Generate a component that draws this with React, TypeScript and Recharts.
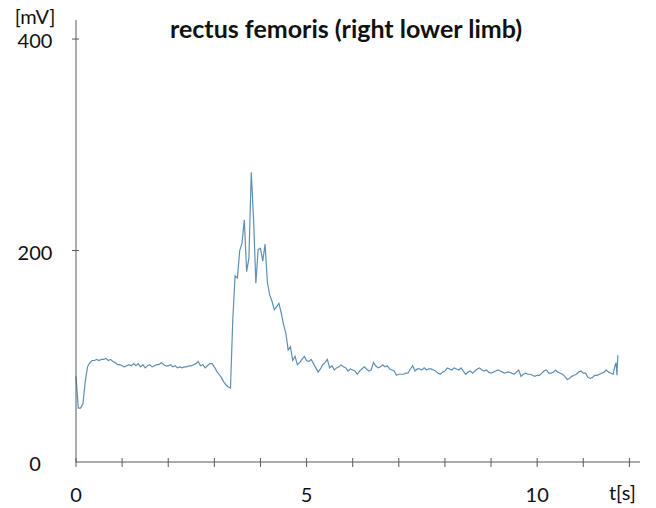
import React from 'react'
import { LineChart, Line, XAxis, YAxis } from 'recharts'

// sample times in seconds
const time = [
  0, 0.05, 0.1, 0.15, 0.2, 0.25, 0.3, 0.35, 0.4, 0.45,
  0.5, 0.55, 0.6, 0.65, 0.7, 0.75, 0.8, 0.85, 0.9, 0.95,
  1, 1.05, 1.1, 1.15, 1.2, 1.25, 1.3, 1.35, 1.4, 1.45,
  1.5, 1.55, 1.6, 1.65, 1.7, 1.75, 1.8, 1.85, 1.9, 1.95,
  2, 2.05, 2.1, 2.15, 2.2, 2.25, 2.3, 2.35, 2.4, 2.45,
  2.5, 2.55, 2.6, 2.65, 2.7, 2.75, 2.8, 2.85, 2.9, 2.95,
  3, 3.05, 3.1, 3.15, 3.2, 3.25, 3.3, 3.35, 3.4, 3.45,
  3.5, 3.55, 3.6, 3.65, 3.7, 3.75, 3.8, 3.85, 3.9, 3.95,
  4, 4.05, 4.1, 4.15, 4.2, 4.25, 4.3, 4.35, 4.4, 4.45,
  4.5, 4.55, 4.6, 4.65, 4.7, 4.75, 4.8, 4.85, 4.9, 4.95,
  5, 5.05, 5.1, 5.15, 5.2, 5.25, 5.3, 5.35, 5.4, 5.45,
  5.5, 5.55, 5.6, 5.65, 5.7, 5.75, 5.8, 5.85, 5.9, 5.95,
  6, 6.05, 6.1, 6.15, 6.2, 6.25, 6.3, 6.35, 6.4, 6.45,
  6.5, 6.55, 6.6, 6.65, 6.7, 6.75, 6.8, 6.85, 6.9, 6.95,
  7, 7.05, 7.1, 7.15, 7.2, 7.25, 7.3, 7.35, 7.4, 7.45,
  7.5, 7.55, 7.6, 7.65, 7.7, 7.75, 7.8, 7.85, 7.9, 7.95,
  8, 8.05, 8.1, 8.15, 8.2, 8.25, 8.3, 8.35, 8.4, 8.45,
  8.5, 8.55, 8.6, 8.65, 8.7, 8.75, 8.8, 8.85, 8.9, 8.95,
  9, 9.05, 9.1, 9.15, 9.2, 9.25, 9.3, 9.35, 9.4, 9.45,
  9.5, 9.55, 9.6, 9.65, 9.7, 9.75, 9.8, 9.85, 9.9, 9.95,
  10, 10.05, 10.1, 10.15, 10.2, 10.25, 10.3, 10.35, 10.4, 10.45,
  10.5, 10.55, 10.6, 10.65, 10.7, 10.75, 10.8, 10.85, 10.9, 10.95,
  11, 11.05, 11.1, 11.15, 11.2, 11.25, 11.3, 11.35, 11.4, 11.45,
  11.5, 11.55, 11.6, 11.65, 11.68, 11.71, 11.73, 11.75,
]

// EMG amplitude in mV
const emg = [
  81, 51, 51, 55, 76, 90, 94, 96, 96, 97,
  96, 97, 97, 98, 96, 97, 95, 94, 92, 92,
  91, 90, 91, 92, 91, 93, 91, 93, 90, 92,
  89, 91, 92, 90, 91, 92, 92, 94, 92, 91,
  91, 92, 90, 91, 89, 90, 89, 90, 90, 91,
  91, 92, 93, 95, 91, 92, 89, 91, 93, 93,
  90, 86, 83, 80, 76, 73, 71, 70, 135, 176,
  174, 200, 207, 229, 180, 193, 274, 230, 169, 201,
  202, 190, 206, 170, 158, 152, 144, 147, 150, 141,
  130, 122, 106, 109, 96, 100, 92, 94, 97, 100,
  96, 95, 97, 93, 89, 85, 88, 92, 94, 97,
  89, 91, 87, 89, 90, 92, 90, 89, 86, 88,
  87, 86, 83, 86, 88, 90, 88, 86, 87, 94,
  91, 89, 90, 92, 90, 91, 88, 87, 86, 82,
  83, 83, 83, 84, 84, 88, 91, 86, 88, 88,
  87, 89, 87, 88, 88, 87, 86, 84, 83, 85,
  86, 89, 88, 87, 89, 88, 87, 89, 86, 83,
  85, 86, 84, 86, 88, 89, 87, 86, 87, 85,
  84, 85, 86, 87, 86, 85, 84, 85, 85, 84,
  83, 85, 87, 81, 83, 84, 83, 83, 82, 81,
  82, 82, 84, 86, 87, 84, 84, 85, 87, 85,
  84, 83, 81, 78, 79, 81, 82, 83, 85, 86,
  84, 84, 80, 79, 80, 82, 82, 83, 84, 85,
  87, 85, 84, 83, 90, 94, 82, 101,
]

const xTicks = [0, 1, 2, 3, 4, 5, 6, 7, 8, 9, 10, 11, 12]
const xLabels: Record<number, string> = { 0: '0', 5: '5', 10: '10', 12: 't[s]' }
const yTicks = [0, 200, 400]

const data = time.map((t, i) => ({ t, mv: emg[i] }))

const AXIS = '#595959'
const TEXT = '#111'
const FONT = 'Lato, "Open Sans", sans-serif'

const XTick = ({ x, y, payload }: any) => {
  const v = payload.value
  const label = xLabels[v]
  const isUnit = v === 12
  return (
    <g>
      <line x1={x} x2={x} y1={y - 4} y2={y + 5} stroke={AXIS} />
      {label && (
        <text
          x={isUnit ? x - 7 : x}
          y={y + (isUnit ? 38 : 40)}
          textAnchor="middle"
          fontSize={20}
          fill={TEXT}
          fontFamily={FONT}
        >
          {label}
        </text>
      )}
    </g>
  )
}

const YTick = ({ x, y, payload }: any) => (
  <g>
    {payload.value !== 0 && <line x1={x - 4} x2={x + 3} y1={y} y2={y} stroke={AXIS} />}
    <text x={x - 41} y={y + 9} textAnchor="middle" fontSize={20} fill={TEXT} fontFamily={FONT}>
      {payload.value}
    </text>
  </g>
)

export default function App() {
  return (
    <div
      style={{
        position: 'absolute',
        left: 0,
        top: 0,
        width: 656,
        height: 508,
        background: '#fff',
        fontFamily: FONT,
      }}
    >
      <div
        style={{
          position: 'absolute',
          left: 96,
          width: 500,
          top: 14,
          textAlign: 'center',
          fontSize: 25,
          fontWeight: 700,
          lineHeight: '28px',
          color: TEXT,
        }}
      >
        rectus femoris (right lower limb)
      </div>
      <div
        style={{
          position: 'absolute',
          left: 10,
          width: 50,
          top: 4,
          textAlign: 'center',
          fontSize: 20,
          lineHeight: '24px',
          color: TEXT,
        }}
      >
        [mV]
      </div>
      <LineChart
        width={656}
        height={508}
        data={data}
        margin={{ top: 20, right: 16, left: 0, bottom: 0 }}
      >
        <XAxis
          dataKey="t"
          type="number"
          domain={[0, 12.23]}
          ticks={xTicks}
          interval={0}
          height={46}
          tickSize={0}
          tickMargin={0}
          tickLine={false}
          axisLine={{ stroke: AXIS }}
          tick={<XTick />}
        />
        <YAxis
          type="number"
          domain={[0, 418]}
          ticks={yTicks}
          interval={0}
          width={76}
          tickSize={0}
          tickMargin={0}
          tickLine={false}
          axisLine={{ stroke: AXIS }}
          tick={<YTick />}
        />
        <Line
          type="linear"
          dataKey="mv"
          stroke="#5f8fb4"
          strokeWidth={1.2}
          dot={false}
          isAnimationActive={false}
        />
      </LineChart>
    </div>
  )
}
